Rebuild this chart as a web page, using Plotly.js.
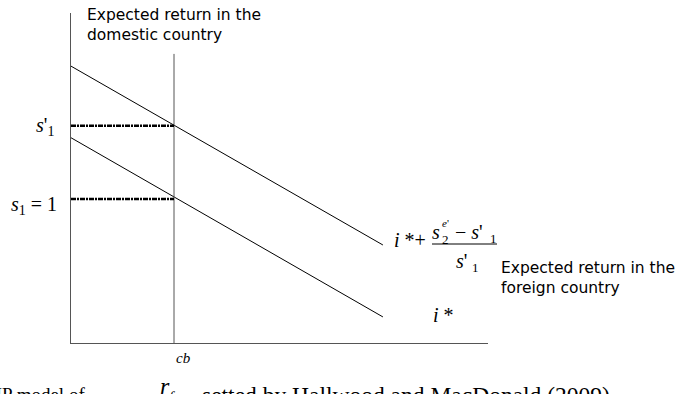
<!DOCTYPE html>
<html>
<head>
<meta charset="utf-8">
<script src="https://cdn.plot.ly/plotly-3.0.1.min.js"></script>
<style>
  html, body { margin: 0; padding: 0; background: #fff; }
  #chart { width: 679px; height: 394px; }
</style>
</head>
<body>
<div id="chart"></div>
<script>
// Diagram values (abstract units, axes run 0..10)
const lineX = [0, 7.48];          // both expected-return lines share the x extent
const upperY = [8.39, 2.97];      // i* + (s2e' - s'1)/s'1
const lowerY = [6.22, 0.79];      // i*
const rcbX = [2.47, 2.47];        // r_f^cb
const rcbY = [0, 8.76];
const dashX = [0, 2.47];
const levelY = [6.58, 4.36];      // s'1, s1 = 1

// pixel -> paper helpers for the text pieces
const L = 71, R = 191, T = 13, B = 51, W = 679, H = 394;
const pw = W - L - R, ph = H - T - B;
function px(x) { return (x - L) / pw; }
function py(y) { return (H - B - y) / ph; }

const serif = 'Liberation Serif, Times New Roman, serif';
const sans = 'DejaVu Sans, Arial, sans-serif';

function note(text, x, y, size, fam, xa, ya) {
  return {
    text, x: px(x), y: py(y), xref: 'paper', yref: 'paper',
    xanchor: xa || 'left', yanchor: ya || 'middle', align: 'left',
    showarrow: false, borderpad: 0,
    font: { family: fam || serif, size: size, color: '#000' }
  };
}

const traces = [
  { x: lineX, y: upperY, mode: 'lines', line: { color: '#000', width: 1 } },
  { x: lineX, y: lowerY, mode: 'lines', line: { color: '#000', width: 1 } },
  { x: rcbX, y: rcbY, mode: 'lines', line: { color: '#555', width: 1 } }
];
levelY.forEach(v => {
  traces.push({
    x: dashX, y: [v, v], mode: 'lines',
    line: { color: '#000', width: 2.5, dash: '5px,1px,2px,1px' }
  });
});

const annotations = [
  note('Expected return in the<br>domestic country', 86, 25, 15.5, sans),
  note('Expected return in the<br>foreign country', 500, 278, 15.5, sans),
  // left axis labels
  note("<i>s</i>'<sub>1</sub>", 55, 126, 20, serif, 'right'),
  note('<i>s</i><sub>1</sub> = 1', 58, 205, 20, serif, 'right'),
  // upper line label: i* + (s2^e' - s'1) / s'1
  note('<i>i</i> *+', 393, 240, 20),
  note('<i>s</i>', 431, 232, 20),
  note('2', 441, 239, 13),
  note("<i>e</i>'", 441, 223, 11),
  note("− <i>s</i>'", 454, 232, 20),
  note('1', 489, 238, 13),
  note("<i>s</i>'", 455, 261, 20),
  note('1', 471, 267, 13),
  // lower line label
  note('<i>i</i> *', 432, 315, 20),
  // caption, cut off by the bottom edge
  note('UIP model of', 86, 395, 19, serif, 'right'),
  note('<i>r</i>', 159, 386, 24),
  note('<i>f</i>', 168, 397, 15),
  note('<i>cb</i>', 175, 358, 15),
  note('setted by Hallwood and MacDonald (2009)', 201, 395, 23.5)
];

const layout = {
  width: W, height: H,
  margin: { l: L, r: R, t: T, b: B, pad: 0 },
  paper_bgcolor: '#fff', plot_bgcolor: '#fff',
  showlegend: false,
  xaxis: {
    range: [0, 10], showgrid: false, zeroline: false, showticklabels: false,
    ticks: '', showline: true, linecolor: '#555', linewidth: 1, fixedrange: true
  },
  yaxis: {
    range: [0, 10], showgrid: false, zeroline: false, showticklabels: false,
    ticks: '', showline: true, linecolor: '#555', linewidth: 1, fixedrange: true
  },
  shapes: [
    // fraction bar
    { type: 'line', xref: 'paper', yref: 'paper', x0: px(432), x1: px(497),
      y0: py(244), y1: py(244), line: { color: '#000', width: 1 } }
  ],
  annotations
};

Plotly.newPlot('chart', traces, layout, { displayModeBar: false, staticPlot: true });
</script>
</body>
</html>
